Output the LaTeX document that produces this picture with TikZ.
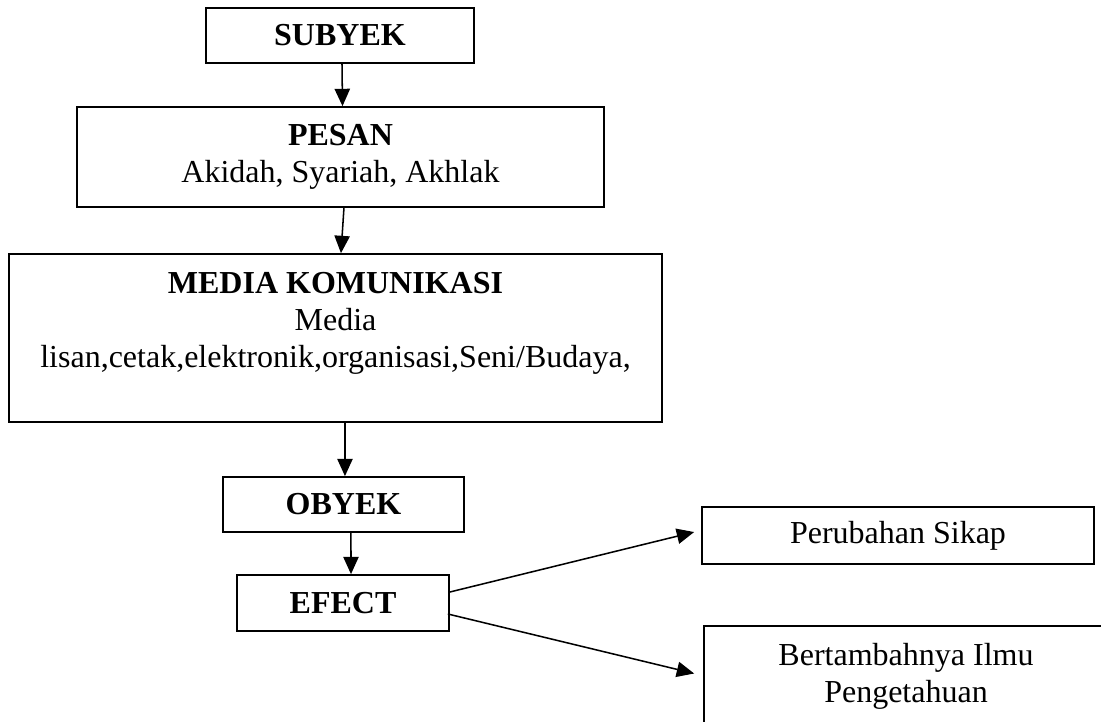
\documentclass[tikz,border=0pt]{standalone}
\usepackage{fontspec}
\setmainfont{Liberation Serif}
\usetikzlibrary{arrows.meta}
\begin{document}
\begin{tikzpicture}[x=0.75pt,y=-0.75pt,
  box/.style={draw=black,line width=1.3pt,rectangle,inner sep=0pt,align=center,
    font=\fontsize{24}{27.75}\selectfont},
  arr/.style={-{Triangle[length=13pt,width=11.5pt]},line width=1.15pt,draw=black}]
\clip (0,0) rectangle (1101,722);
\fill[white] (0,0) rectangle (1101,722);
\node[box,minimum width=201pt,minimum height=41.25pt] (subyek) at (340,35.5) {\textbf{SUBYEK}};
\node[box,minimum width=395.25pt,minimum height=75pt] (pesan) at (340.5,157) {\textbf{PESAN}\\Akidah, Syariah, Akhlak};
\node[box,minimum width=489.75pt,minimum height=126pt] (media) at (335.5,338) {\textbf{MEDIA KOMUNIKASI}\\Media\\lisan,cetak,elektronik,organisasi,Seni/Budaya,\\\mbox{}};
\node[box,minimum width=180.75pt,minimum height=41.25pt] (obyek) at (343.5,504.5) {\textbf{OBYEK}};
\node[box,minimum width=159pt,minimum height=42pt] (efect) at (343,603) {\textbf{EFECT}};
\node[box,minimum width=294pt,minimum height=42.75pt] (sikap) at (898,535.5) {Perubahan Sikap};
\node[box,minimum width=303pt,minimum height=75.75pt] (ilmu) at (906,676.5) {Bertambahnya Ilmu\\Pengetahuan};
\draw[arr] ([xshift=1.5pt]subyek.south) -- ([xshift=1.5pt]pesan.north);
\draw[arr] ([xshift=2.6pt]pesan.south) -- ([xshift=4.1pt]media.north);
\draw[arr] ([xshift=7.1pt]media.south) -- ([xshift=1.1pt]obyek.north);
\draw[arr] ([xshift=5.6pt]obyek.south) -- ([xshift=6pt]efect.north);
\draw[arr] ([yshift=8.25pt]efect.east) -- ([xshift=-5.25pt,yshift=2.6pt]sikap.west);
\draw[arr] ([xshift=-1.5pt,yshift=-8.25pt]efect.east) -- ([xshift=-6.75pt,yshift=2.25pt]ilmu.west);
\end{tikzpicture}
\end{document}
